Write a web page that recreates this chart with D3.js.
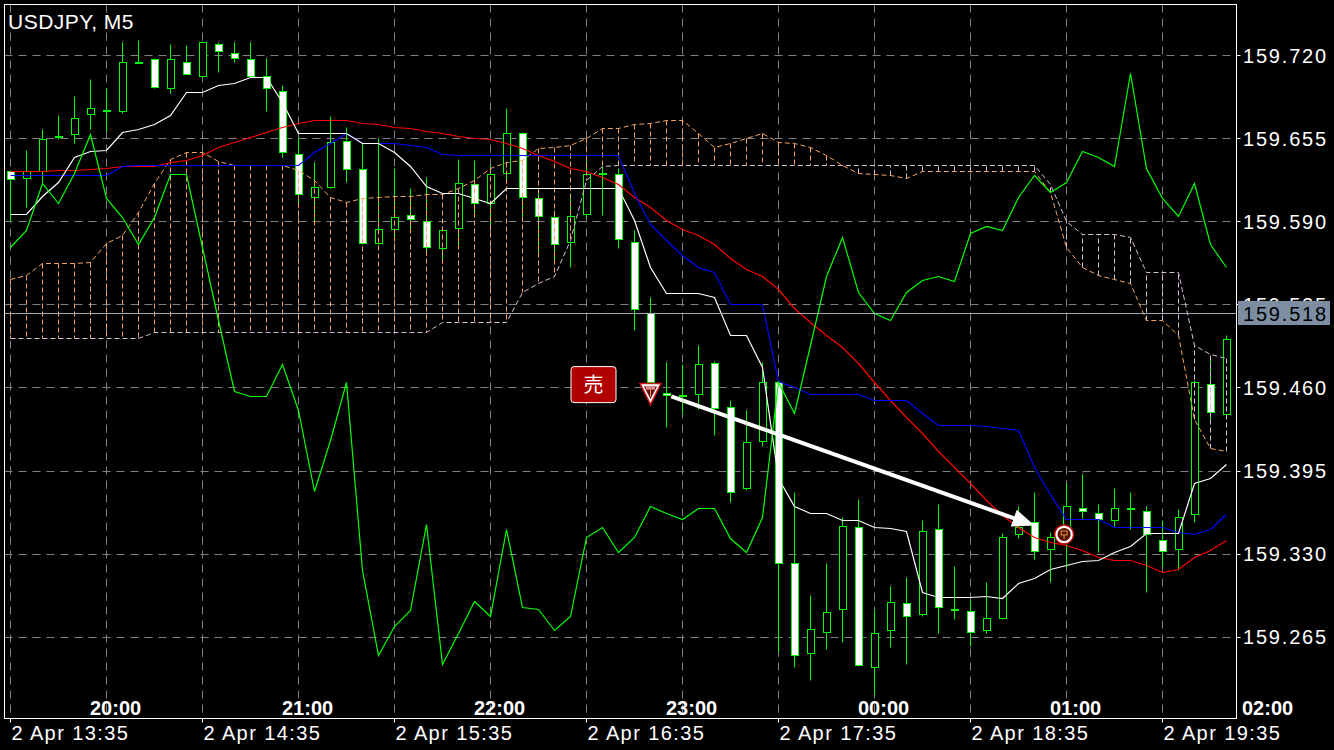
<!DOCTYPE html>
<html><head><meta charset="utf-8">
<script src="https://cdn.jsdelivr.net/npm/d3@7"></script>
<style>html,body{margin:0;padding:0;background:#000;}svg{display:block;}</style>
</head><body><svg id="c" width="1334" height="750"></svg>
<script>
// ---------- DATA ----------
const opens  = [159.629,159.624,159.629,159.657,159.658,159.674,159.677,159.676,159.715,159.717,
  159.694,159.715,159.704,159.729,159.722,159.717,159.704,159.692,159.643,159.609,
  159.617,159.653,159.631,159.573,159.584,159.595,159.590,159.569,159.585,159.619,
  159.604,159.628,159.659,159.608,159.593,159.574,159.596,159.628,159.627,159.574,
  159.518,159.456,159.454,159.455,159.479,159.445,159.381,159.418,159.464,159.323,
  159.252,159.269,159.287,159.351,159.241,159.270,159.291,159.283,159.349,159.287,
  159.285,159.270,159.280,159.345,159.355,159.334,159.343,159.366,159.362,159.356,
  159.366,159.363,159.341,159.334,159.361,159.463,159.439];
const highs  = [159.630,159.646,159.662,159.673,159.688,159.701,159.694,159.730,159.732,159.718,
  159.729,159.728,159.731,159.730,159.730,159.730,159.718,159.697,159.655,159.636,
  159.672,159.664,159.651,159.655,159.632,159.616,159.625,159.585,159.639,159.638,
  159.634,159.679,159.660,159.617,159.599,159.609,159.638,159.633,159.632,159.583,
  159.531,159.480,159.478,159.493,159.481,159.450,159.442,159.480,159.466,159.378,
  159.298,159.323,159.359,159.373,159.286,159.305,159.312,159.356,159.369,159.320,
  159.294,159.308,159.346,159.367,159.378,159.347,159.385,159.392,159.369,159.381,
  159.378,159.367,159.356,159.365,159.466,159.484,159.501];
const lows   = [159.590,159.601,159.620,159.654,159.651,159.662,159.661,159.675,159.714,159.694,
  159.690,159.705,159.703,159.707,159.715,159.703,159.676,159.640,159.603,159.590,
  159.616,159.621,159.572,159.572,159.575,159.583,159.564,159.558,159.570,159.593,
  159.585,159.621,159.593,159.566,159.557,159.554,159.593,159.595,159.569,159.505,
  159.446,159.429,159.440,159.443,159.423,159.370,159.380,159.414,159.253,159.241,
  159.231,159.255,159.261,159.242,159.220,159.257,159.244,159.281,159.268,159.279,
  159.258,159.268,159.279,159.342,159.326,159.308,159.319,159.358,159.331,159.352,
  159.349,159.300,159.320,159.317,159.355,159.435,159.438];
const closes = [159.623,159.629,159.654,159.656,159.671,159.679,159.677,159.715,159.715,159.695,
  159.717,159.705,159.730,159.723,159.718,159.704,159.694,159.644,159.611,159.617,
  159.652,159.631,159.573,159.584,159.593,159.592,159.570,159.583,159.620,159.604,
  159.627,159.659,159.609,159.594,159.572,159.594,159.627,159.628,159.576,159.521,
  159.464,159.454,159.454,159.478,159.444,159.378,159.417,159.464,159.323,159.251,
  159.271,159.284,159.352,159.243,159.268,159.292,159.281,159.348,159.288,159.287,
  159.269,159.280,159.343,159.351,159.332,159.343,159.367,159.363,159.357,159.366,
  159.366,159.345,159.332,159.359,159.464,159.441,159.498];

const whiteLine = [159.596,159.596,159.610,159.621,159.640,159.645,159.646,159.660,159.662,159.666,
  159.673,159.691,159.691,159.697,159.698,159.703,159.703,159.683,159.659,159.659,
  159.659,159.659,159.651,159.651,159.644,159.633,159.618,159.612,159.612,159.608,
  159.604,159.616,159.616,159.616,159.616,159.616,159.616,159.616,159.616,159.591,
  159.554,159.534,159.534,159.534,159.531,159.501,159.501,159.476,159.389,159.367,
  159.362,159.362,159.356,159.356,159.351,159.350,159.348,159.300,159.296,159.296,
  159.296,159.297,159.295,159.307,159.311,159.318,159.321,159.324,159.325,159.331,
  159.336,159.346,159.346,159.346,159.385,159.389,159.400];
const redLine = [159.629,159.629,159.629,159.630,159.630,159.631,159.632,159.633,159.633,159.633,
  159.636,159.638,159.642,159.648,159.652,159.656,159.660,159.664,159.667,159.669,
  159.669,159.669,159.667,159.666,159.664,159.663,159.661,159.659,159.657,159.655,
  159.654,159.651,159.647,159.642,159.637,159.632,159.629,159.625,159.619,159.609,
  159.601,159.591,159.584,159.579,159.572,159.561,159.553,159.547,159.537,159.522,
  159.511,159.501,159.492,159.479,159.464,159.450,159.437,159.424,159.410,159.398,
  159.385,159.372,159.360,159.351,159.343,159.339,159.337,159.333,159.327,159.325,
  159.325,159.321,159.316,159.318,159.327,159.333,159.341];
const blueLine = [159.626,159.626,159.626,159.626,159.626,159.626,159.626,159.633,159.634,159.634,
  159.634,159.634,159.634,159.634,159.634,159.634,159.634,159.634,159.634,159.644,
  159.651,159.659,159.651,159.651,159.651,159.650,159.648,159.643,159.642,159.642,
  159.642,159.642,159.642,159.642,159.642,159.642,159.642,159.642,159.642,159.612,
  159.588,159.575,159.564,159.554,159.550,159.525,159.525,159.525,159.465,159.460,
  159.455,159.455,159.455,159.455,159.450,159.450,159.450,159.440,159.431,159.431,
  159.431,159.430,159.428,159.427,159.398,159.377,159.357,159.357,159.357,159.351,
  159.351,159.351,159.351,159.347,159.345,159.349,159.361];
const greenLine = [159.570,159.583,159.620,159.604,159.628,159.658,159.608,159.593,159.572,159.593,
  159.627,159.627,159.570,159.513,159.457,159.453,159.453,159.478,159.442,159.379,
  159.419,159.464,159.317,159.251,159.273,159.286,159.353,159.244,159.268,159.293,
  159.281,159.349,159.288,159.287,159.270,159.281,159.343,159.351,159.331,159.343,
  159.367,159.362,159.357,159.366,159.366,159.342,159.331,159.359,159.464,159.440,
  159.493,159.547,159.578,159.535,159.518,159.513,159.535,159.544,159.547,159.543,
  159.581,159.586,159.583,159.609,159.626,159.613,159.621,159.645,159.640,159.633,
  159.706,159.632,159.608,159.594,159.620,159.572,159.554];
const spanA = [159.545,159.548,159.557,159.557,159.557,159.558,159.573,159.579,159.597,159.620,
  159.639,159.644,159.644,159.637,159.634,159.634,159.634,159.634,159.630,159.622,
  159.609,159.605,159.608,159.609,159.610,159.610,159.611,159.611,159.616,159.622,
  159.632,159.636,159.638,159.647,159.648,159.650,159.655,159.663,159.663,159.666,
  159.667,159.669,159.669,159.659,159.648,159.651,159.655,159.659,159.652,159.651,
  159.648,159.642,159.634,159.628,159.627,159.626,159.624,159.629,159.629,159.629,
  159.629,159.629,159.629,159.629,159.629,159.613,159.570,159.554,159.548,159.545,
  159.542,159.513,159.513,159.501,159.435,159.413,159.410];
const spanB = [159.499,159.499,159.499,159.499,159.499,159.499,159.499,159.499,159.499,159.503,
  159.503,159.503,159.503,159.503,159.503,159.503,159.503,159.503,159.503,159.503,
  159.503,159.503,159.503,159.503,159.503,159.503,159.503,159.511,159.511,159.511,
  159.511,159.511,159.535,159.542,159.547,159.575,159.622,159.633,159.634,159.634,
  159.634,159.634,159.634,159.634,159.634,159.634,159.634,159.634,159.634,159.634,
  159.634,159.634,159.634,159.634,159.634,159.634,159.634,159.634,159.634,159.634,
  159.634,159.634,159.634,159.634,159.634,159.619,159.590,159.580,159.580,159.580,
  159.578,159.550,159.550,159.550,159.493,159.486,159.483];

const priceTicks = [159.265,159.330,159.395,159.460,159.525,159.590,159.655,159.720];
const bidPrice = 159.518;
const dateLabels = ["2 Apr 13:35","2 Apr 14:35","2 Apr 15:35","2 Apr 16:35","2 Apr 17:35","2 Apr 18:35","2 Apr 19:35"];
const dateLabelIdx = [0,12,24,36,48,60,72];
const hourLabels = ["20:00","21:00","22:00","23:00","00:00","01:00","02:00"];
const hourLabelIdx = [5,17,29,41,53,65,77];
const gridIdx = [0,6,12,18,24,30,36,42,48,54,60,66,72];
const sellIdx = 40, sellPrice = 159.463;
const arrowFrom = [41.3, 159.453], arrowTo = [64.0, 159.352];
const closeMark = [65.85, 159.345];
const title = "USDJPY, M5";

// ---------- DRAW ----------
const L=4.5,T=4.5,R=1236.5,B=718.5;
const FONT="'Liberation Sans', Arial, sans-serif";
const svg=d3.select('#c');
svg.append('rect').attr('width',1334).attr('height',750).attr('fill','#000');
const x=d3.scaleLinear().domain([0,76]).range([10.5,10.5+16*76]);
const y=d3.scaleLinear().domain([159.2014,159.760]).range([718,4]);
const py=v=>Math.round(y(v))+0.5;

svg.append('clipPath').attr('id','clip').append('rect')
  .attr('x',L).attr('y',T).attr('width',R-L).attr('height',B-T);
const plot=svg.append('g').attr('clip-path','url(#clip)');

// grid
plot.append('g').selectAll(null).data(gridIdx).join('line')
  .attr('x1',d=>x(d)).attr('x2',d=>x(d)).attr('y1',T).attr('y2',B)
  .attr('stroke','#808080').attr('stroke-dasharray','8,6');
plot.append('g').selectAll(null).data(priceTicks).join('line')
  .attr('x1',L).attr('x2',R).attr('y1',d=>py(d)).attr('y2',d=>py(d))
  .attr('stroke','#808080').attr('stroke-dasharray','8,6');

// candles
const idx=d3.range(opens.length);
const cg=plot.append('g');
cg.selectAll(null).data(idx).join('line')
  .attr('x1',i=>x(i)).attr('x2',i=>x(i))
  .attr('y1',i=>py(highs[i])).attr('y2',i=>py(lows[i]))
  .attr('stroke','#00ff00');
cg.selectAll(null).data(idx).join('rect')
  .attr('x',i=>x(i)-3).attr('width',7)
  .attr('y',i=>py(Math.max(opens[i],closes[i])))
  .attr('height',i=>Math.max(1,py(Math.min(opens[i],closes[i]))-py(Math.max(opens[i],closes[i]))))
  .attr('fill',i=>closes[i]<opens[i]?'#ffffff':'#000000')
  .attr('stroke','#00ff00');

// cloud hatches
plot.append('g').selectAll(null).data(idx).join('line')
  .attr('x1',i=>x(i)).attr('x2',i=>x(i))
  .attr('y1',i=>py(spanA[i])).attr('y2',i=>py(spanB[i]))
  .attr('stroke',i=>spanA[i]>=spanB[i]?'#F4A460':'#D8BFD8')
  .attr('stroke-dasharray','5,3');
const line=arr=>d3.line().x((d,i)=>x(i)).y(d=>py(d))(arr);
plot.append('path').attr('d',line(spanB)).attr('fill','none').attr('stroke','#D8BFD8')
  .attr('stroke-dasharray','5,3');
plot.append('path').attr('d',line(spanA)).attr('fill','none').attr('stroke','#F4A460')
  .attr('stroke-dasharray','5,3');

// indicator lines
[[redLine,'#ff0000'],[blueLine,'#0000ff'],[whiteLine,'#ffffff'],[greenLine,'#00ff00']].forEach(([a,c])=>{
  plot.append('path').attr('d',line(a)).attr('fill','none').attr('stroke',c)
    .attr('stroke-width',1.2);
});

// bid line
plot.append('line').attr('x1',L).attr('x2',R).attr('y1',py(bidPrice)).attr('y2',py(bidPrice))
  .attr('stroke','#a3a9b3');

// trade arrow
const ax0=x(arrowFrom[0]), ay0=y(arrowFrom[1]), ax1=x(arrowTo[0]), ay1=y(arrowTo[1]);
const len=Math.hypot(ax1-ax0,ay1-ay0), ux=(ax1-ax0)/len, uy=(ay1-ay0)/len;
const hl=22, hw=9;
const bx=ax1-ux*hl, by=ay1-uy*hl;
svg.append('line').attr('x1',ax0).attr('y1',ay0).attr('x2',bx+ux*2).attr('y2',by+uy*2)
  .attr('stroke','#fff').attr('stroke-width',4);
svg.append('polygon').attr('points',[[ax1,ay1],[bx-uy*hw,by+ux*hw],[bx+uy*hw,by-ux*hw]].map(p=>p.join(',')).join(' '))
  .attr('fill','#fff');

// sell triangle
const tx=x(sellIdx), ty=y(sellPrice);
svg.append('polygon').attr('points',`${tx-10.5},${ty} ${tx+10.5},${ty} ${tx},${ty+21}`)
  .attr('fill','#fff').attr('stroke','#d01010').attr('stroke-width',1.5);
svg.append('polygon').attr('points',`${tx-6.5},${ty+3} ${tx+6.5},${ty+3} ${tx},${ty+15.5}`)
  .attr('fill','#6b0d0d');
svg.append('rect').attr('x',tx-4.5).attr('y',ty+3).attr('width',9).attr('height',3).attr('fill','#e08a8a');
svg.append('line').attr('x1',tx).attr('x2',tx).attr('y1',ty+6).attr('y2',ty+13).attr('stroke','#c8a040');

// 売 label
svg.append('rect').attr('x',tx-79.5).attr('y',ty-17).attr('width',45).attr('height',36).attr('rx',3)
  .attr('fill','#b00000').attr('stroke','#ffffff').attr('stroke-width',1);
svg.append('text').attr('x',tx-57).attr('y',ty+8).attr('text-anchor','middle')
  .attr('font-family',"'Noto Sans CJK JP', sans-serif").attr('font-size',20).attr('fill','#fff').text('売');

// close circle
const cx=x(closeMark[0]), cy=y(closeMark[1]);
svg.append('circle').attr('cx',cx).attr('cy',cy).attr('r',9.5).attr('fill','#fff').attr('stroke','#c00000').attr('stroke-width',1.5);
svg.append('circle').attr('cx',cx).attr('cy',cy).attr('r',6.5).attr('fill','#5c0c00');
svg.append('rect').attr('x',cx-3).attr('y',cy-3.5).attr('width',6).attr('height',4).attr('fill','none').attr('stroke','#d0a040').attr('stroke-width',1);
svg.append('line').attr('x1',cx).attr('x2',cx).attr('y1',cy+0.5).attr('y2',cy+4.5).attr('stroke','#d0a040');

// frame
svg.append('rect').attr('x',L).attr('y',T).attr('width',R-L).attr('height',B-T)
  .attr('fill','none').attr('stroke','#ffffff');

// title
svg.append('text').attr('x',8).attr('y',29).attr('font-family',FONT).attr('font-size',21)
  .attr('letter-spacing','0.5px').attr('fill','#fff').text(title);

// right axis
const ra=svg.append('g');
ra.selectAll(null).data(priceTicks).join('line')
  .attr('x1',R).attr('x2',R+4).attr('y1',d=>py(d)).attr('y2',d=>py(d)).attr('stroke','#fff');
ra.selectAll(null).data(priceTicks).join('text')
  .attr('x',1243).attr('y',d=>y(d)+7.5)
  .attr('font-family',FONT).attr('font-size',20).attr('letter-spacing','1.8px')
  .attr('fill','#fff').text(d=>d.toFixed(3));
// bid label (drawn over the tick label it hides, as in the reference)
svg.append('rect').attr('x',1238).attr('y',py(bidPrice)-12.5).attr('width',92).attr('height',24).attr('fill','#7d8ea3');
svg.append('text').attr('x',1243).attr('y',y(bidPrice)+7.5).attr('font-family',FONT).attr('font-size',20)
  .attr('letter-spacing','1.8px').attr('fill','#000').text(bidPrice.toFixed(3));

// bottom axis
const ba=svg.append('g');
ba.selectAll(null).data(dateLabelIdx).join('line')
  .attr('x1',d=>x(d)).attr('x2',d=>x(d)).attr('y1',B).attr('y2',B+4).attr('stroke','#fff');
ba.selectAll(null).data(dateLabels).join('text')
  .attr('x',(d,i)=>x(dateLabelIdx[i])+1).attr('y',740)
  .attr('font-family',FONT).attr('font-size',20).attr('letter-spacing','1.4px')
  .attr('fill','#fff').text(d=>d);
ba.selectAll(null).data(hourLabels).join('text')
  .attr('x',(d,i)=>x(hourLabelIdx[i])-0.5).attr('y',715)
  .attr('font-family',FONT).attr('font-size',20).attr('font-weight','bold')
  .attr('fill','#fff').text(d=>d);
</script></body></html>
